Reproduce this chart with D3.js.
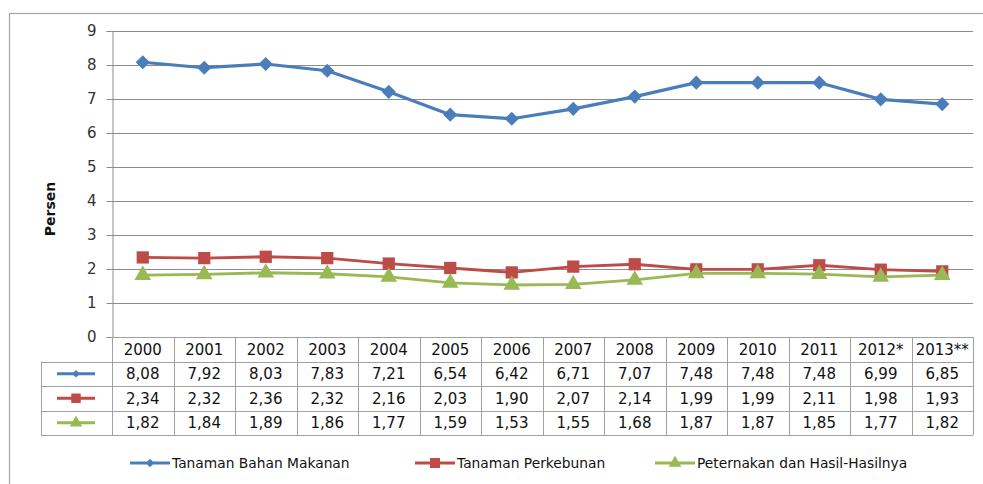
<!DOCTYPE html>
<html><head><meta charset="utf-8">
<script src="https://cdn.jsdelivr.net/npm/d3@7"></script>
<style>body{margin:0;background:#fff;}svg{display:block;}</style>
</head><body>
<svg id="c" width="983" height="484"></svg>
<script>
const years = ["2000","2001","2002","2003","2004","2005","2006","2007","2008","2009","2010","2011","2012*","2013**"];
const seriesNames = ["Tanaman Bahan Makanan","Tanaman Perkebunan","Peternakan dan Hasil-Hasilnya"];
const pangan = [8.08,7.92,8.03,7.83,7.21,6.54,6.42,6.71,7.07,7.48,7.48,7.48,6.99,6.85];
const perkebunan = [2.34,2.32,2.36,2.32,2.16,2.03,1.90,2.07,2.14,1.99,1.99,2.11,1.98,1.93];
const peternakan = [1.82,1.84,1.89,1.86,1.77,1.59,1.53,1.55,1.68,1.87,1.87,1.85,1.77,1.82];
const yTicks = [0,1,2,3,4,5,6,7,8,9];
const colors = ["#4a7ebb","#be4b48","#98b954"];
const shapes = [d3.symbolSquare, d3.symbolSquare, d3.symbolTriangle];
const rot = [45,0,0];
const seriesData = [pangan, perkebunan, peternakan];

const svg = d3.select("#c");
const font = "'DejaVu Sans', Verdana, sans-serif";
const L = 112, R = 973, T = 31, B = 337;

// outer frame
svg.append("rect").attr("x",9.5).attr("y",13.5).attr("width",1200).attr("height",1000)
  .attr("fill","none").attr("stroke","#a6a6a6").attr("stroke-width",1.2);

const x = d3.scaleBand().domain(years).range([L,R]).padding(0);
const y = d3.scaleLinear().domain([0,9]).range([B,T]);

// gridlines
svg.append("g").selectAll("line").data(yTicks.filter(d=>d>0)).join("line")
  .attr("x1",L).attr("x2",R).attr("y1",d=>Math.round(y(d))+0.5).attr("y2",d=>Math.round(y(d))+0.5)
  .attr("stroke","#8c8c8c").attr("stroke-width",1);

// y axis
const yAxis = svg.append("g").attr("transform",`translate(${L+0.5},0)`)
  .call(d3.axisLeft(y).tickValues(yTicks).tickSize(6).tickPadding(10).tickFormat(d3.format("d")));
yAxis.select(".domain").attr("stroke","#8c8c8c");
yAxis.selectAll(".tick line").attr("stroke","#8c8c8c");
yAxis.selectAll(".tick text").attr("font-family",font).attr("font-size",15).attr("fill","#333");

svg.append("text").attr("transform",`translate(55,209) rotate(-90)`).attr("text-anchor","middle")
  .attr("font-family",font).attr("font-size",14).attr("font-weight","bold").attr("fill","#111").text("Persen");

// data table
const rowH = 24.5;
const tableLeft = 41;
const gridC = "#a0a0a0";
const tg = svg.append("g");
tg.append("line").attr("x1",L).attr("x2",R).attr("y1",B+0.5).attr("y2",B+0.5).attr("stroke",gridC);
for (let r=1;r<=4;r++){
  const yy = Math.round(B + r*rowH)+0.5;
  tg.append("line").attr("x1",tableLeft).attr("x2",R).attr("y1",yy).attr("y2",yy).attr("stroke",gridC);
}
tg.append("line").attr("x1",tableLeft+0.5).attr("x2",tableLeft+0.5).attr("y1",B+rowH).attr("y2",B+4*rowH).attr("stroke",gridC);
years.forEach((yr,i)=>{
  const xx = Math.round(x(yr))+0.5;
  tg.append("line").attr("x1",xx).attr("x2",xx).attr("y1",B).attr("y2",B+4*rowH).attr("stroke",gridC);
});
tg.append("line").attr("x1",R+0.5).attr("x2",R+0.5).attr("y1",B).attr("y2",B+4*rowH).attr("stroke",gridC);
tg.selectAll("text.h").data(years).join("text").attr("class","h")
  .attr("x",d=>x(d)+x.bandwidth()/2).attr("y",B+rowH/2+5.5).attr("text-anchor","middle")
  .attr("font-family",font).attr("font-size",15).attr("fill","#111").text(d=>d);
const fmt = v => v.toFixed(2).replace(".",",");
seriesData.forEach((arr,si)=>{
  const cy = B + rowH*(si+1) + rowH/2;
  tg.selectAll("text.r"+si).data(arr).join("text").attr("class","r"+si)
    .attr("x",(d,i)=>x(years[i])+x.bandwidth()/2).attr("y",cy+5.5).attr("text-anchor","middle")
    .attr("font-family",font).attr("font-size",15).attr("fill","#111").text(fmt);
  tg.append("line").attr("x1",57).attr("x2",95).attr("y1",cy).attr("y2",cy)
    .attr("stroke",colors[si]).attr("stroke-width",3);
  tg.append("path").attr("d",d3.symbol(shapes[si], si===0?30:(si===1?90:70))())
    .attr("transform",`translate(76,${cy}) rotate(${rot[si]})`).attr("fill",colors[si]);
});

// lines
const line = d3.line().x((d,i)=>x(years[i])+x.bandwidth()/2).y(d=>y(d));
seriesData.forEach((arr,si)=>{
  svg.append("path").datum(arr).attr("d",line).attr("fill","none")
    .attr("stroke",colors[si]).attr("stroke-width",si===0?3.2:2.8).attr("stroke-linejoin","round");
  svg.append("g").selectAll("path").data(arr).join("path")
    .attr("d",d3.symbol(shapes[si], si===0?100:(si===1?150:120))())
    .attr("transform",(d,i)=>`translate(${x(years[i])+x.bandwidth()/2},${y(d)}) rotate(${rot[si]})`)
    .attr("fill",colors[si]);
});

// legend
const legX = [130,415,655];
const legY = 463;
seriesNames.forEach((n,si)=>{
  const g = svg.append("g");
  g.append("line").attr("x1",legX[si]).attr("x2",legX[si]+40).attr("y1",legY).attr("y2",legY)
    .attr("stroke",colors[si]).attr("stroke-width",3);
  g.append("path").attr("d",d3.symbol(shapes[si], si===0?36:(si===1?100:70))())
    .attr("transform",`translate(${legX[si]+20},${legY}) rotate(${rot[si]})`).attr("fill",colors[si]);
  g.append("text").attr("x",legX[si]+42).attr("y",legY+4.5)
    .attr("font-family",font).attr("font-size",13.8).attr("fill","#111").text(n);
});
</script>
</body></html>
